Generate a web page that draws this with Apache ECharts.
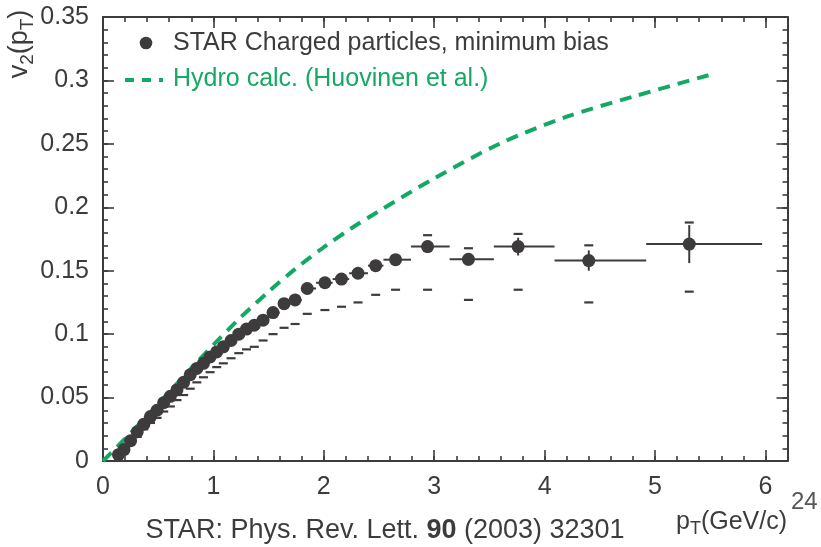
<!DOCTYPE html>
<html><head><meta charset="utf-8">
<script src="https://cdn.jsdelivr.net/npm/echarts@6/dist/echarts.min.js"></script>
<style>html,body{margin:0;padding:0;background:#fff}#c{width:821px;height:547px}</style>
</head><body><div id="c"></div>
<script>
// ---- data ----
const ptValues = [0.14,0.19,0.25,0.31,0.37,0.43,0.49,0.55,0.61,0.67,0.73,0.79,0.85,0.91,0.97,1.03,1.09,1.16,1.23,1.30,1.37,1.45,1.54,1.64,1.74,1.85,2.01,2.16,2.31,2.47,2.65,2.94,3.31,3.76,4.40,5.31];
const v2Values = [0.005,0.009,0.016,0.023,0.029,0.035,0.040,0.046,0.051,0.056,0.062,0.068,0.073,0.077,0.082,0.086,0.090,0.095,0.100,0.104,0.107,0.111,0.117,0.124,0.127,0.136,0.1405,0.1434,0.148,0.154,0.1587,0.169,0.159,0.169,0.158,0.171];
const binLow  = [0.12,0.17,0.22,0.28,0.34,0.40,0.46,0.52,0.58,0.64,0.70,0.76,0.82,0.88,0.94,1.00,1.06,1.12,1.19,1.26,1.33,1.40,1.50,1.60,1.70,1.80,1.93,2.08,2.23,2.40,2.54,2.79,3.14,3.54,4.09,4.92];
const binHigh = [0.17,0.22,0.28,0.34,0.40,0.46,0.52,0.58,0.64,0.70,0.76,0.82,0.88,0.94,1.00,1.06,1.12,1.19,1.26,1.33,1.40,1.50,1.60,1.70,1.80,1.93,2.08,2.23,2.40,2.54,2.79,3.14,3.54,4.09,4.92,5.97];
const statErr = [0.002,0.002,0.002,0.002,0.002,0.002,0.002,0.002,0.002,0.002,0.002,0.002,0.002,0.002,0.002,0.002,0.002,0.002,0.002,0.002,0.002,0.002,0.002,0.002,0.002,0.002,0.002,0.002,0.002,0.002,0.003,0.005,0.005,0.007,0.008,0.015];
const sysLow  = [0.004,0.007,0.013,0.019,0.025,0.030,0.034,0.039,0.043,0.048,0.052,0.057,0.062,0.066,0.070,0.074,0.077,0.081,0.085,0.088,0.090,0.095,0.100,0.105,0.108,0.116,0.119,0.1216,0.125,0.131,0.135,0.135,0.127,0.135,0.125,0.1335];
const sysHigh = [null,null,null,null,null,null,null,null,null,null,null,null,null,null,null,null,null,null,null,null,null,null,null,null,null,null,null,null,null,null,null,0.178,0.1677,0.179,0.170,0.188];
const hydroPt = [0,0.25,0.5,0.75,1.0,1.25,1.5,1.75,2.0,2.25,2.5,3.0,3.6,4.2,4.8,5.5];
const hydroV2 = [0,0.022,0.045,0.0685,0.0915,0.1135,0.1335,0.152,0.1685,0.1835,0.197,0.2228,0.2504,0.2714,0.2872,0.3045];
const xTickLabels = ['0','1','2','3','4','5','6'];
const yTickLabels = ['0','0.05','0.1','0.15','0.2','0.25','0.3','0.35'];
const legendNames = ['STAR Charged particles, minimum bias','Hydro calc. (Huovinen et al.)'];

// ---- styles ----
const DARK = '#3d3b3c';
const GREEN = '#12a866';
const FONT = '"Liberation Sans", Arial, Helvetica, sans-serif';

const errData = ptValues.map((p, i) => [p, v2Values[i], binLow[i], binHigh[i], statErr[i], sysLow[i], sysHigh[i] == null ? NaN : sysHigh[i]]);
const pointData = ptValues.map((p, i) => [p, v2Values[i]]);
const hydroData = hydroPt.map((p, i) => [p, hydroV2[i]]);

function xLabel(v) {
  const r = Math.round(v);
  return Math.abs(v - r) < 1e-6 && xTickLabels[r] !== undefined ? xTickLabels[r] : '';
}
function yLabel(v) {
  const r = Math.round(v / 0.05);
  return Math.abs(v - r * 0.05) < 1e-6 && yTickLabels[r] !== undefined ? yTickLabels[r] : '';
}

function axisBase(pos, isMinor, interval, max, withLabels, labelFmt) {
  return {
    type: 'value', position: pos, min: 0, max: max, interval: interval,
    axisLine: { show: isMinor, onZero: false, lineStyle: { color: DARK, width: 2 } },
    axisTick: { show: true, inside: true, length: isMinor ? 5 : 11, lineStyle: { color: DARK, width: 1.6 } },
    axisLabel: withLabels ? { show: true, formatter: labelFmt, fontSize: 25, fontFamily: FONT, color: DARK, margin: 14 } : { show: false },
    splitLine: { show: false },
    minorTick: { show: false }
  };
}

const chart = echarts.init(document.getElementById('c'), null, { renderer: 'canvas' });
const subRich = function (size, sub) {
  return {
    m: { fontSize: size, fontFamily: FONT, lineHeight: size + 4, verticalAlign: 'top', fill: DARK },
    s: { fontSize: sub, fontFamily: FONT, lineHeight: sub + 2, padding: [Math.round(size * 0.5), 0, 0, 0], verticalAlign: 'bottom', fill: DARK }
  };
};

chart.setOption({
  backgroundColor: '#ffffff',
  animation: false,
  grid: { left: 103, right: 33.5, top: 17, bottom: 86, containLabel: false },
  xAxis: [
    axisBase('bottom', true, 0.2, 6.2, false),
    axisBase('bottom', false, 1, 6.2, true, xLabel),
    axisBase('top', true, 0.2, 6.2, false),
    axisBase('top', false, 1, 6.2, false)
  ],
  yAxis: [
    axisBase('left', true, 0.01, 0.35, false),
    axisBase('left', false, 0.05, 0.35, true, yLabel),
    axisBase('right', true, 0.01, 0.35, false),
    axisBase('right', false, 0.05, 0.35, false)
  ],
  series: [
    {
      name: legendNames[1], type: 'line', data: hydroData, smooth: 0.3, showSymbol: false,
      xAxisIndex: 0, yAxisIndex: 0, z: 2,
      lineStyle: { color: GREEN, width: 4, type: [12, 8] }
    },
    {
      type: 'custom', data: errData, xAxisIndex: 0, yAxisIndex: 0, z: 3,
      encode: { x: 0, y: 1 },
      renderItem: function (params, api) {
        const x = api.value(0), y = api.value(1);
        const xl = api.value(2), xh = api.value(3), st = api.value(4), sl = api.value(5), su = api.value(6);
        const c = api.coord([x, y]);
        const pl = api.coord([xl, y]), ph = api.coord([xh, y]);
        const s1 = api.coord([x, y - st]), s2 = api.coord([x, y + st]);
        const st_ = { stroke: DARK, lineWidth: 2 };
        const children = [
          { type: 'line', shape: { x1: pl[0], y1: c[1], x2: ph[0], y2: c[1] }, style: st_ },
          { type: 'line', shape: { x1: c[0], y1: s1[1], x2: c[0], y2: s2[1] }, style: st_ }
        ];
        if (isFinite(sl)) {
          const q = api.coord([x, sl]);
          children.push({ type: 'line', shape: { x1: q[0] - 4.5, y1: q[1], x2: q[0] + 4.5, y2: q[1] }, style: { stroke: DARK, lineWidth: 2.2 } });
        }
        if (isFinite(su)) {
          const q = api.coord([x, su]);
          children.push({ type: 'line', shape: { x1: q[0] - 4.5, y1: q[1], x2: q[0] + 4.5, y2: q[1] }, style: { stroke: DARK, lineWidth: 2.2 } });
        }
        return { type: 'group', children: children };
      }
    },
    {
      name: legendNames[0], type: 'scatter', data: pointData, xAxisIndex: 0, yAxisIndex: 0, z: 4,
      symbol: 'circle', symbolSize: 13, itemStyle: { color: DARK, opacity: 1 }
    }
  ],
  graphic: {
    elements: [
      // legend
      { type: 'circle', shape: { cx: 146, cy: 43, r: 6.3 }, style: { fill: DARK } },
      { type: 'text', x: 173, y: 43, style: { text: legendNames[0], fontSize: 25, fontFamily: FONT, fill: DARK, align: 'left', verticalAlign: 'middle' } },
      { type: 'line', shape: { x1: 125, y1: 80, x2: 163, y2: 80 }, style: { stroke: GREEN, lineWidth: 4, lineDash: [9, 8] } },
      { type: 'text', x: 173, y: 79, style: { text: legendNames[1], fontSize: 25, fontFamily: FONT, fill: '#16a865', align: 'left', verticalAlign: 'middle' } },
      // y axis title
      { type: 'text', x: 22, y: 44, rotation: Math.PI / 2,
        style: { text: '{m|v}{s|2}{m|(p}{s|T}{m|)}', rich: subRich(27, 19), align: 'center', verticalAlign: 'middle', fill: DARK } },
      // x axis title
      { type: 'text', x: 676, y: 524,
        style: { text: '{m|p}{s|T}{m|(GeV/c)}', rich: subRich(25, 18), align: 'left', verticalAlign: 'middle', fill: DARK } },
      // page number
      { type: 'text', x: 791, y: 502, style: { text: '24', fontSize: 24, fontFamily: FONT, fill: '#555555', align: 'left', verticalAlign: 'middle' } },
      // caption
      { type: 'text', x: 385, y: 531,
        style: { text: 'STAR: Phys. Rev. Lett. {b|90} (2003) 32301', fontSize: 27, fontFamily: FONT, fill: DARK, align: 'center', verticalAlign: 'middle',
          rich: { b: { fontSize: 27, fontFamily: FONT, fontWeight: 'bold', fill: DARK } } } }
    ]
  }
});
</script>
</body></html>
